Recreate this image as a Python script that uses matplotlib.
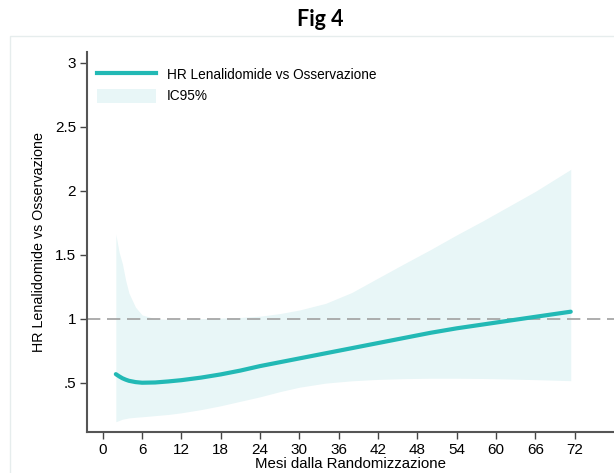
import matplotlib.pyplot as plt
import numpy as np
from matplotlib.lines import Line2D
from matplotlib.patches import Patch, Rectangle

plt.rcParams['font.family'] = ['Liberation Sans', 'DejaVu Sans']

# mesi dalla randomizzazione e stime HR con IC95%
mesi = [2, 2.5, 3, 3.5, 4, 5, 6, 8, 10, 12, 15, 18, 21, 24, 27, 30,
        34, 38, 42, 46, 50, 54, 58, 62, 66, 71.4]
hr = [0.567, 0.55, 0.535, 0.524, 0.515, 0.505, 0.50, 0.502, 0.51, 0.52,
      0.54, 0.565, 0.595, 0.63, 0.66, 0.69, 0.73, 0.77, 0.81, 0.85,
      0.89, 0.925, 0.955, 0.985, 1.015, 1.055]
ic_sup = [1.66, 1.52, 1.43, 1.30, 1.20, 1.09, 1.03, 1.0, 0.995, 0.995,
          1.0, 1.005, 1.01, 1.02, 1.04, 1.068, 1.12, 1.205, 1.318, 1.43,
          1.54, 1.655, 1.765, 1.88, 1.995, 2.167]
ic_inf = [0.195, 0.205, 0.215, 0.22, 0.225, 0.23, 0.234, 0.243, 0.252, 0.265,
          0.29, 0.32, 0.355, 0.39, 0.43, 0.465, 0.497, 0.515, 0.526, 0.532,
          0.535, 0.535, 0.533, 0.529, 0.524, 0.516]

xticks = list(range(0, 73, 6))
yticks = [0.5, 1, 1.5, 2, 2.5, 3]
ylabels = ['.5', '1', '1.5', '2', '2.5', '3']

teal = '#22b9b5'
band = '#e8f6f7'

fig = plt.figure(figsize=(6.14, 4.73), dpi=100)
fig.patches.append(Rectangle((10 / 614, -0.1), 1.2, 1 - 36 / 473 + 0.1,
                             transform=fig.transFigure, fill=False,
                             edgecolor='#e6eded', linewidth=1))
ax = fig.add_axes([87 / 614, 1 - 432 / 473, 1 - 87 / 614, (432 - 52) / 473])

ax.fill_between(mesi, ic_inf, ic_sup, color=band, linewidth=0)
ax.axhline(1, color='#a0a0a0', linewidth=1.2, dashes=(8, 4))
ax.plot(mesi, hr, color=teal, linewidth=3, solid_capstyle='round')

ax.set_xlim(-2.4, 78.0)
ax.set_ylim(0.115, 3.084)
ax.set_xticks(xticks)
ax.set_yticks(yticks)
ax.set_yticklabels(ylabels)
ax.tick_params(axis='both', direction='out', length=5, width=1,
               color='#444444', labelsize=11, pad=3)

for s in ['top', 'right']:
    ax.spines[s].set_visible(False)
for s in ['left', 'bottom']:
    ax.spines[s].set_color('#555555')
    ax.spines[s].set_linewidth(1.5)

ax.set_xlabel('Mesi dalla Randomizzazione', fontsize=10.8, labelpad=0)
ax.set_ylabel('HR Lenalidomide vs Osservazione', fontsize=10.3, labelpad=6)

handles = [Line2D([], [], color=teal, linewidth=3),
           Patch(facecolor=band, edgecolor='none')]
ax.legend(handles, ['HR Lenalidomide vs Osservazione', 'IC95%'],
          loc='upper left', bbox_to_anchor=(0.0, 0.985), frameon=False,
          fontsize=9.8, handlelength=4.4, handleheight=1.2,
          handletextpad=0.75, labelspacing=0.5, borderaxespad=0.3)

fig.text(320 / 614, 1 - 20 / 473, 'Fig 4', ha='center', va='center',
         fontsize=15.5, fontweight='bold', family=['Lato', 'DejaVu Sans'])

fig.savefig('out.png', dpi=100)
